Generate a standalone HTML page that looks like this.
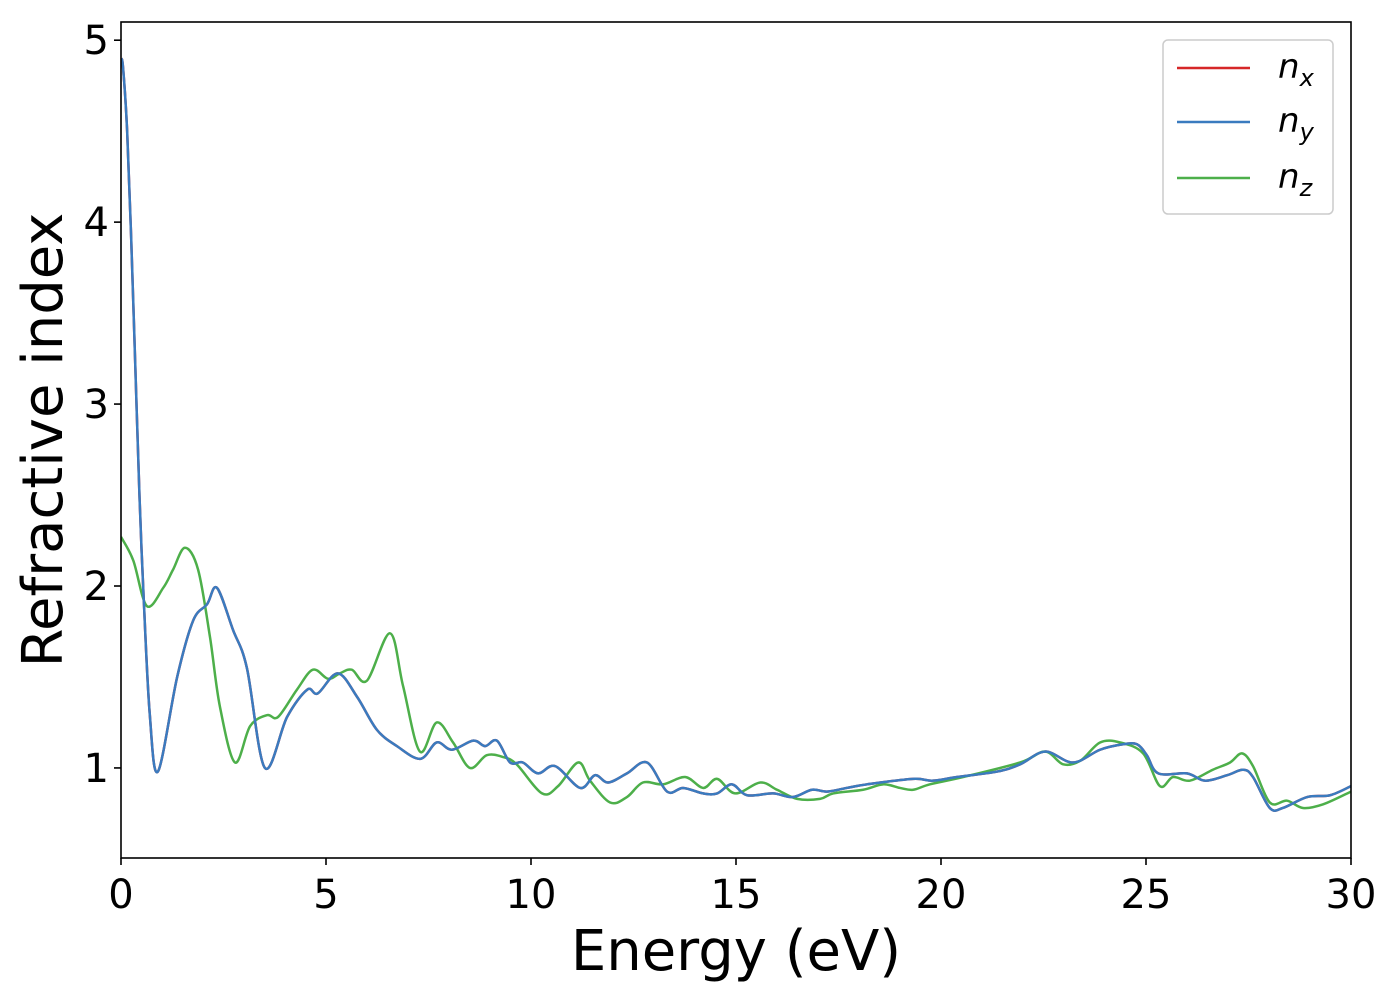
<!DOCTYPE html>
<html><head><meta charset="utf-8"><style>
body{margin:0;background:#fff}
svg{display:block;font-family:"DejaVu Sans","Liberation Sans",sans-serif}
</style></head><body>
<svg id="chart" width="1400" height="1000">
<g id="plot"></g>
</svg>
<script>
const xTicks=[0,5,10,15,20,25,30];
const yTicks=[1,2,3,4,5];
const nxyE=[0,0.05,0.15,0.25,0.35,0.45,0.55,0.7,0.9,1.37,1.76,2.1,2.34,2.73,3.07,3.51,4.05,4.54,4.8,5.29,5.76,6.24,6.73,7.3,7.7,8.07,8.59,8.88,9.17,9.49,9.8,10.17,10.59,11.2,11.56,11.88,12.34,12.83,13.32,13.71,14.2,14.54,14.9,15.27,15.9,16.39,16.85,17.22,17.7,18.2,19.32,19.8,20.39,21.37,21.93,22.54,23.22,23.88,24.44,24.78,25.02,25.3,26.0,26.44,26.98,27.37,27.61,28.02,28.34,28.93,29.49,30];
const nxyV=[4.9,4.85,4.5,3.9,3.2,2.5,1.95,1.3,0.98,1.5,1.81,1.9,1.99,1.76,1.55,1.0,1.28,1.43,1.41,1.52,1.39,1.21,1.12,1.05,1.14,1.1,1.15,1.12,1.15,1.03,1.03,0.97,1.01,0.89,0.96,0.92,0.97,1.03,0.87,0.89,0.86,0.86,0.91,0.85,0.86,0.84,0.88,0.87,0.89,0.91,0.94,0.93,0.95,0.98,1.02,1.09,1.03,1.1,1.13,1.13,1.07,0.97,0.97,0.93,0.96,0.99,0.95,0.78,0.78,0.84,0.85,0.9];
const nzE=[0,0.3,0.63,1.03,1.27,1.56,1.88,2.17,2.41,2.78,3.15,3.56,3.83,4.29,4.68,5.05,5.34,5.63,6.0,6.56,6.88,7.29,7.7,8.1,8.51,8.92,9.32,9.65,10.27,10.66,11.15,11.44,11.93,12.34,12.73,13.22,13.76,14.2,14.54,14.98,15.59,16.0,16.49,17.05,17.37,18.1,18.59,19.0,19.32,19.73,20.54,21.93,22.54,22.98,23.4,23.88,24.37,24.93,25.34,25.66,26.07,26.63,27.05,27.34,27.61,28.02,28.44,28.83,29.32,30];
const nzV=[2.27,2.14,1.89,1.99,2.09,2.21,2.09,1.72,1.34,1.03,1.23,1.29,1.28,1.43,1.54,1.49,1.52,1.54,1.48,1.74,1.45,1.09,1.25,1.14,1.0,1.07,1.06,1.02,0.86,0.9,1.03,0.93,0.81,0.84,0.92,0.91,0.95,0.89,0.94,0.86,0.92,0.88,0.83,0.83,0.86,0.88,0.91,0.89,0.88,0.91,0.95,1.03,1.09,1.02,1.04,1.14,1.14,1.08,0.9,0.95,0.93,0.99,1.03,1.08,1.01,0.81,0.82,0.78,0.8,0.87];
const X0=121,X1=1351,Y0=858,Y1=22,xMin=0,xMax=30,yMin=0.505,yMax=5.1;
const sx=v=>X0+(v-xMin)/(xMax-xMin)*(X1-X0);
const sy=v=>Y0-(v-yMin)/(yMax-yMin)*(Y0-Y1);
const NS="http://www.w3.org/2000/svg";
const g=document.getElementById('plot');
function mk(t,a,p){const e=document.createElementNS(NS,t);for(const k in a)e.setAttribute(k,a[k]);(p||g).appendChild(e);return e;}
function pathD(xs,ys){const p=xs.map((x,i)=>[sx(x),sy(ys[i])]);let d=`M${p[0][0]},${p[0][1]}`;
for(let i=0;i<p.length-1;i++){const a=p[Math.max(i-1,0)],b=p[i],c=p[i+1],e=p[Math.min(i+2,p.length-1)];
d+=`C${b[0]+(c[0]-a[0])/6},${b[1]+(c[1]-a[1])/6} ${c[0]-(e[0]-b[0])/6},${c[1]-(e[1]-b[1])/6} ${c[0]},${c[1]}`;}return d;}
const clip=mk('clipPath',{id:'cp'});mk('rect',{x:X0,y:Y1,width:X1-X0,height:Y0-Y1},clip);
const series=[['nx-line',nxyE,nxyV,'#d62728'],['ny-line',nxyE,nxyV,'#3a7bbf'],['nz-line',nzE,nzV,'#4daf4a']];
const order=[0,2,1];
order.forEach(i=>{const s=series[i];const el=mk('path',{d:pathD(s[1],s[2]),fill:'none',stroke:s[3],'stroke-width':2.5,'clip-path':'url(#cp)'});

});
const fr=mk('rect',{x:X0,y:Y1,width:X1-X0,height:Y0-Y1,fill:'none',stroke:'#000','stroke-width':1.6});


xTicks.forEach(t=>{mk('line',{x1:sx(t),x2:sx(t),y1:Y0,y2:Y0+7,stroke:'#000','stroke-width':1.6});
const tx=mk('text',{x:sx(t),y:Y0+50,'font-size':40,'text-anchor':'middle'});tx.textContent=t;

});
yTicks.forEach(t=>{mk('line',{x1:X0-7,x2:X0,y1:sy(t),y2:sy(t),stroke:'#000','stroke-width':1.6});
const tx=mk('text',{x:X0-12,y:sy(t)+14,'font-size':40,'text-anchor':'end'});tx.textContent=t;

});
const xt=mk('text',{x:736,y:970,'font-size':56,'text-anchor':'middle'});xt.textContent='Energy (eV)';


const yt=mk('text',{x:0,y:0,'font-size':56,'text-anchor':'middle',transform:'translate(62,440) rotate(-90)'});yt.textContent='Refractive index';


const lg=mk('g',{});


mk('rect',{x:1163,y:40,width:170,height:174,rx:5,fill:'#fff',stroke:'#ccc','stroke-width':1.5},lg);
[['x','#d62728',68],['y','#3a7bbf',122],['z','#4daf4a',178]].forEach(e=>{
mk('line',{x1:1177,x2:1250,y1:e[2],y2:e[2],stroke:e[1],'stroke-width':2.5},lg);
const t=mk('text',{x:1278,y:e[2]+10,'font-size':34,'font-style':'italic'},lg);
t.innerHTML='n<tspan font-size="24" dy="8">'+e[0]+'</tspan>';

});
</script>
</body></html>
